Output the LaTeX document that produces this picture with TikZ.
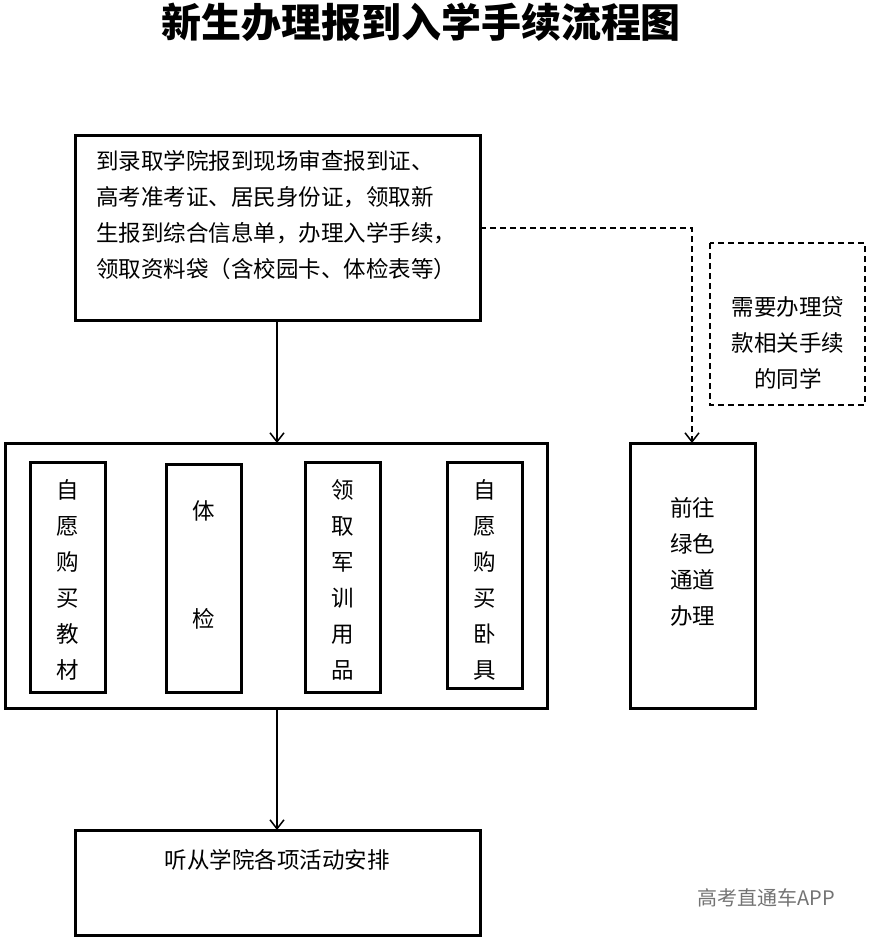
\documentclass[tikz,border=0pt]{standalone}
\usepackage{fontspec}
\setmainfont{Noto Sans CJK SC}
\usetikzlibrary{arrows.meta}

\tikzset{
  box/.style = {draw, line width=3pt},
  dbox/.style = {draw, line width=2.5pt, dash pattern=on 6pt off 4pt},
  txt/.style = {font=\fontsize{22.5}{36}\selectfont, align=center},
  link/.style = {-{Straight Barb[length=9pt,width=14pt]}, line width=1.5pt}
}

\begin{document}
\begin{tikzpicture}[x=1pt, y=-1pt]
  \useasboundingbox (0,0) rectangle (869,938);

  % title
  \node[font=\bfseries\fontsize{40}{44}\selectfont] (title) at (421,22) {新生办理报到入学手续流程图};

  % registration box
  \draw[box] (75,135) rectangle (480,320);
  \node[anchor=north west, font=\fontsize{22.5}{36}\selectfont, align=left, inner sep=0pt] (reg) at (96,150)
    {到录取学院报到现场审查报到证、\\高考准考证、居民身份证，领取新\\生报到综合信息单，办理入学手续，\\领取资料袋（含校园卡、体检表等）};
  \coordinate (regS) at (277,320);
  \coordinate (regE) at (480,228);

  % loan note
  \draw[dbox] (710,243) rectangle (865,405);
  \node[txt] (loan) at (788,343) {需要办理贷\\款相关手续\\的同学};

  % middle group
  \draw[box] (5,443) rectangle (547,708);
  \coordinate (grpN) at (277,443);
  \coordinate (grpS) at (277,708);
  \draw[box] (30,462) rectangle (105,692);
  \node[txt] (books) at (67.5,580) {自\\愿\\购\\买\\教\\材};
  \draw[box] (166,464) rectangle (241,692);
  \node[txt] (exam) at (203.5,565) {体\\[72pt]检};
  \draw[box] (305,462) rectangle (380,692);
  \node[txt] (gear) at (342.5,580) {领\\取\\军\\训\\用\\品};
  \draw[box] (447,462) rectangle (522,688);
  \node[txt] (bed) at (484.5,580) {自\\愿\\购\\买\\卧\\具};

  % green channel
  \draw[box] (630,443) rectangle (755,708);
  \node[txt] (green) at (692.5,562) {前往\\绿色\\通道\\办理};
  \coordinate (greenN) at (692,443);

  % final box
  \draw[box] (75,830) rectangle (480,935);
  \node[txt] (final) at (277,860) {听从学院各项活动安排};
  \coordinate (finalN) at (277,830);

  % connectors
  \draw[link] (regS) -- (grpN);
  \draw[link] (grpS) -- (finalN);
  \draw[link, dash pattern=on 6pt off 4pt] (regE) -| (greenN);

  % watermark
  \node[text=black!55, font=\fontsize{20}{24}\selectfont] (mark) at (766,898) {高考直通车APP};
\end{tikzpicture}
\end{document}
